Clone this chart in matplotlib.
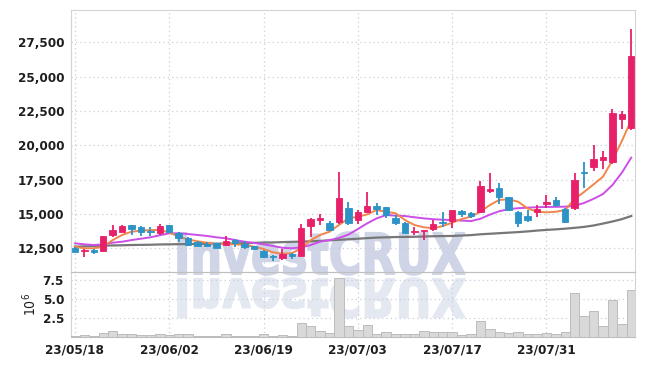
import numpy as np
import matplotlib
matplotlib.use("Agg")
import matplotlib.pyplot as plt
from matplotlib.textpath import TextPath
from matplotlib.patches import PathPatch
from matplotlib.font_manager import FontProperties
from matplotlib.transforms import Affine2D

plt.rcParams['font.family'] = ['DejaVu Sans']
plt.rcParams['font.stretch'] = 'condensed'

# data
date_labels = ['23/05/18', '23/06/02', '23/06/19', '23/07/03', '23/07/17', '23/07/31']
date_ticks = [0, 10, 20, 30, 40, 50]

opens = [12540, 12280, 12370, 12330, 13470, 13710, 14200, 14030, 13760, 13640,
         14200, 13640, 13270, 12940, 12800, 12860, 12760, 13130, 12830, 12690,
         12300, 11960, 11820, 12110, 11960, 14150, 14560, 14360, 14440, 15460,
         14560, 15160, 15580, 15480, 14680, 14360, 13660, 13740, 13930, 14440,
         14510, 15240, 15050, 15120, 16650, 16910, 16210, 15160, 14870, 15120,
         15720, 16020, 15360, 15410, 18030, 18440, 18930, 18800, 21910, 21280]
highs = [12560, 12450, 12420, 13420, 14190, 14200, 14220, 14100, 14030, 14270,
         14220, 13660, 13300, 13010, 12950, 12900, 13400, 13150, 13010, 12700,
         12380, 11990, 12450, 12140, 14250, 14680, 14970, 14510, 18030, 15850,
         15290, 16620, 15780, 15500, 14920, 14380, 14070, 13840, 14560, 15120,
         15300, 15310, 15120, 17420, 17960, 17230, 16260, 15200, 15290, 15650,
         16380, 16260, 15460, 17960, 18760, 20000, 19580, 22620, 22500, 28470]
lows = [12200, 11890, 12050, 12210, 13350, 13680, 13470, 13400, 13420, 13490,
        13600, 12980, 12700, 12650, 12600, 12500, 12700, 12620, 12420, 12420,
        11820, 11600, 11630, 11720, 11960, 13340, 14200, 13830, 14290, 14200,
        14250, 15050, 14890, 14680, 14200, 13600, 13470, 13100, 13760, 14070,
        14000, 14800, 14700, 15100, 16500, 15700, 15220, 14070, 14440, 14800,
        15410, 15530, 14360, 15290, 16870, 18130, 18270, 18620, 21190, 21110]
closes = [12210, 12380, 12250, 13400, 13830, 14150, 13900, 13660, 13660, 14120,
          13660, 13270, 12740, 12690, 12700, 12540, 13030, 12880, 12600, 12450,
          11890, 11850, 12060, 11960, 14000, 14630, 14680, 13830, 16140, 14320,
          15160, 15580, 15340, 14920, 14320, 13640, 13780, 13830, 14270, 14320,
          15290, 14970, 14850, 17040, 16800, 16210, 15290, 14320, 14560, 15360,
          15850, 15650, 14440, 17470, 17950, 18980, 19120, 22370, 22280, 26520]
volumes = [0.15, 0.26, 0.13, 0.52, 0.83, 0.44, 0.44, 0.26, 0.26, 0.44,
           0.26, 0.44, 0.44, 0.13, 0.13, 0.13, 0.44, 0.13, 0.13, 0.13,
           0.44, 0.13, 0.26, 0.13, 1.83, 1.40, 0.83, 0.52, 7.73, 1.40,
           0.96, 1.57, 0.44, 0.65, 0.44, 0.44, 0.44, 0.83, 0.65, 0.65,
           0.65, 0.26, 0.44, 2.10, 1.05, 0.65, 0.52, 0.65, 0.44, 0.44,
           0.52, 0.44, 0.65, 5.76, 2.71, 3.36, 1.48, 4.89, 1.75, 6.20]
ma_short = [12620, 12500, 12500, 12620, 13100, 13470, 13710, 13780, 13830, 13830,
            13660, 13340, 13150, 13010, 12910, 12790, 12830, 12790, 12740, 12620,
            12450, 12210, 12110, 12140, 12500, 13100, 13470, 13710, 14200, 14680,
            14800, 14970, 15290, 15160, 15050, 14560, 14200, 14030, 13960, 14120,
            14360, 14630, 14800, 15160, 15650, 16020, 16070, 15890, 15410, 15160,
            15120, 15160, 15290, 16100, 16600, 17150, 17710, 18900, 20300, 21840]
ma_mid = [12860, 12790, 12740, 12790, 12910, 12980, 13100, 13200, 13300, 13450,
          13590, 13590, 13540, 13470, 13400, 13300, 13230, 13100, 12980, 12890,
          12790, 12670, 12540, 12500, 12570, 12740, 12980, 13100, 13250, 13500,
          13900, 14320, 14680, 14920, 14880, 14850, 14760, 14680, 14620, 14580,
          14560, 14520, 14480, 14650, 14950, 15200, 15350, 15420, 15460, 15490,
          15510, 15520, 15530, 15600, 15800, 16100, 16450, 17100, 18000, 19100]
ma_long = [12620, 12640, 12660, 12690, 12710, 12720, 12740, 12750, 12760, 12780,
           12790, 12800, 12810, 12820, 12830, 12840, 12850, 12860, 12880, 12900,
           12920, 12930, 12950, 12970, 12990, 13010, 13040, 13080, 13120, 13160,
           13200, 13240, 13280, 13300, 13320, 13330, 13340, 13360, 13380, 13390,
           13400, 13430, 13460, 13520, 13560, 13600, 13640, 13680, 13730, 13790,
           13840, 13880, 13930, 13990, 14060, 14160, 14300, 14450, 14620, 14850]

up_col = '#e8206a'
down_col = '#2c93c6'
grid_col = '#c9cedd'
frame_col = '#d4d4d4'
text_col = '#1e1e1e'

fig = plt.figure(figsize=(6.45, 3.66), dpi=100, facecolor='white')
W, H = 645, 366
ax = fig.add_axes([71 / W, 1 - 272 / H, (635 - 71) / W, (272 - 10) / H])
axv = fig.add_axes([71 / W, 1 - 337 / H, (635 - 71) / W, (337 - 272) / H], sharex=ax)
for a in (ax, axv):
    a.set_facecolor('none')
    for s in a.spines.values():
        s.set_color(frame_col)
        s.set_linewidth(0.8)
    a.grid(True, color=grid_col, linestyle=(0, (1, 2.5)), linewidth=0.9)
    a.set_axisbelow(True)
    a.tick_params(length=0, colors=text_col, labelsize=9.6, pad=5)
axv.spines['top'].set_color('#bfbfbf')
axv.spines['bottom'].set_color('#bdbdbd')

x = np.arange(len(opens))
o = np.array(opens); c = np.array(closes)
hi = np.array(highs); lo = np.array(lows)
up = c >= o
cols = np.where(up, up_col, down_col)
bottoms = np.minimum(o, c)
heights = np.maximum(np.abs(c - o), 60)

ax.vlines(x, lo, hi, colors=cols, linewidth=1.3, zorder=3)
ax.bar(x, heights, bottom=bottoms, width=0.68, color=cols, edgecolor=cols, linewidth=0.6, zorder=4)

ax.plot(x, ma_long, color='#777777', linewidth=1.6, zorder=2)
ax.plot(x, ma_mid, color='#cc4ee8', linewidth=1.4, zorder=2)
ax.plot(x, ma_short, color='#f0864c', linewidth=1.4, zorder=2)

ax.set_ylim(10775, 29850)
ax.set_yticks([12500, 15000, 17500, 20000, 22500, 25000, 27500])
ax.set_yticklabels(['12,500', '15,000', '17,500', '20,000', '22,500', '25,000', '27,500'],
                   fontweight='bold')
ax.set_xlim(-0.42, 59.4)
ax.set_xticks(date_ticks)
ax.tick_params(axis='x', labelbottom=False)

axv.bar(x, volumes, width=1.0, color='#d9d9d9', edgecolor='#bcbcbc', linewidth=0.7, zorder=3)
axv.set_ylim(0, 8.55)
axv.set_yticks([2.5, 5.0, 7.5])
axv.set_yticklabels(['2.5', '5.0', '7.5'], fontweight='bold')
axv.set_xticks(date_ticks)
axv.set_xticklabels(date_labels, fontweight='bold')
axv.tick_params(axis='x', pad=5)
axv.set_ylabel(r'$10^6$', color=text_col, fontsize=10, labelpad=3)

# watermark with reflection
tp = TextPath((0, 0), 'InvestCRUX', size=50, prop=FontProperties(family='DejaVu Sans', weight='bold', stretch='normal'))
ext = tp.get_extents()
sx = (465 - 178) / ext.width
sy = (134 - 91) / ext.height
top_tr = Affine2D().translate(-ext.x0, -ext.y0).scale(sx, sy).translate(178, 91)
fig.add_artist(PathPatch(tp, transform=top_tr, facecolor='#cfd5e7', edgecolor='#cfd5e7', linewidth=1.2, zorder=-1))
ref_tr = Affine2D().translate(-ext.x0, -ext.y0).scale(sx, -sy * 0.93).translate(178, 88)
fig.add_artist(PathPatch(tp, transform=ref_tr, facecolor='#e4e8f1', edgecolor='#e4e8f1', linewidth=1.2, zorder=-1))

fig.savefig('out.png', dpi=100, facecolor='white')
